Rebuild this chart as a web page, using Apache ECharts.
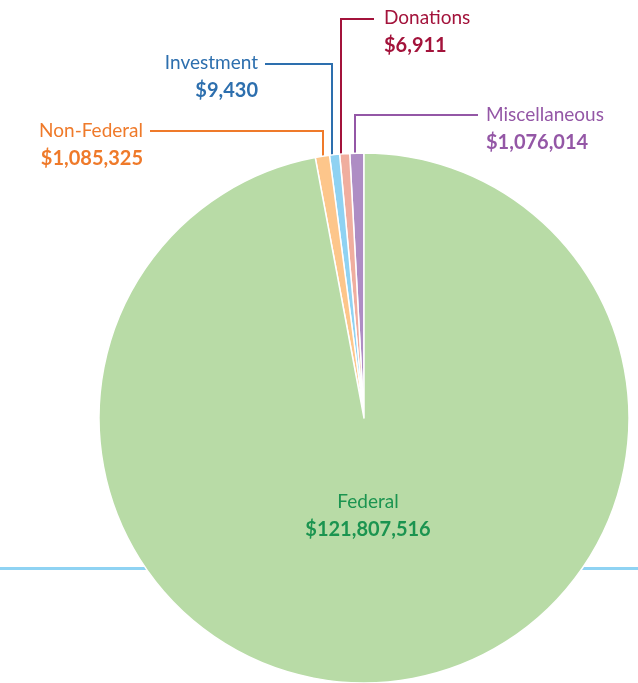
<!DOCTYPE html>
<html>
<head>
<meta charset="utf-8">
<script src="https://cdn.jsdelivr.net/npm/echarts@6/dist/echarts.min.js"></script>
<style>
  html, body { margin: 0; padding: 0; background: #fff; }
  #main { width: 638px; height: 683px; }
</style>
</head>
<body>
<div id="main"></div>
<script>
// data, in drawing order (counter-clockwise from the top)
var names = ['Miscellaneous', 'Donations', 'Investment', 'Non-Federal', 'Federal'];
var values = [1076014, 6911, 9430, 1085325, 121807516];
var fills = ['#ae8dc4', '#f0ae9f', '#8fd2f2', '#fdc68b', '#b8dba6'];
var textColors = ['#9457a6', '#a3133b', '#2d6fae', '#ef7a2a', '#1b9450'];

// where each label goes and how its leader line runs
var labelSpots = [
  { x: 486, y: 101, align: 'left', line: [[355, 172], [355, 115], [478, 115]] },
  { x: 384, y: 4, align: 'left', line: [[341, 161], [341, 19], [374, 19]] },
  { x: 258, y: 49, align: 'right', line: [[332, 172], [332, 64], [265, 64]] },
  { x: 143, y: 117, align: 'right', line: [[323, 177], [323, 131], [150, 131]] },
  { x: 368, y: 488, align: 'center', line: null }
];

function money(v) {
  return '$' + String(v).replace(/\B(?=(\d{3})+(?!\d))/g, ',');
}

var font = 'Lato, "Open Sans", sans-serif';

var data = names.map(function (n, i) {
  return {
    name: n,
    value: values[i],
    itemStyle: { color: fills[i] },
    label: {
      rich: {
        n: { fontFamily: font, fontSize: 19, color: textColors[i], lineHeight: 28 },
        v: { fontFamily: font, fontSize: 20, fontWeight: 'bold', color: textColors[i], lineHeight: 28 }
      }
    },
    labelLine: {
      show: labelSpots[i].line !== null,
      lineStyle: { color: textColors[i], width: 2 }
    }
  };
});

var chart = echarts.init(document.getElementById('main'));

var option = {
  animation: false,
  backgroundColor: '#fff',
  graphic: [
    {
      type: 'rect',
      z: -10,
      shape: { x: 0, y: 567, width: 638, height: 3 },
      style: { fill: '#8fd3f3' }
    }
  ],
  series: [
    {
      type: 'pie',
      center: [364, 418],
      radius: 265,
      startAngle: 90,
      clockwise: false,
      minAngle: 2.2,
      avoidLabelOverlap: false,
      itemStyle: { borderColor: '#fff', borderWidth: 1.5 },
      label: {
        show: true,
        formatter: function (p) {
          return '{n|' + p.name + '}\n{v|' + money(p.value) + '}';
        }
      },
      labelLine: { show: true, length: 10, length2: 10 },
      labelLayout: function (p) {
        var s = labelSpots[p.dataIndex];
        var r = {
          x: s.x,
          y: s.y,
          align: s.align,
          verticalAlign: 'top'
        };
        if (s.line) r.labelLinePoints = s.line;
        return r;
      },
      emphasis: { disabled: true },
      data: data
    }
  ]
};

chart.setOption(option);
</script>
</body>
</html>
